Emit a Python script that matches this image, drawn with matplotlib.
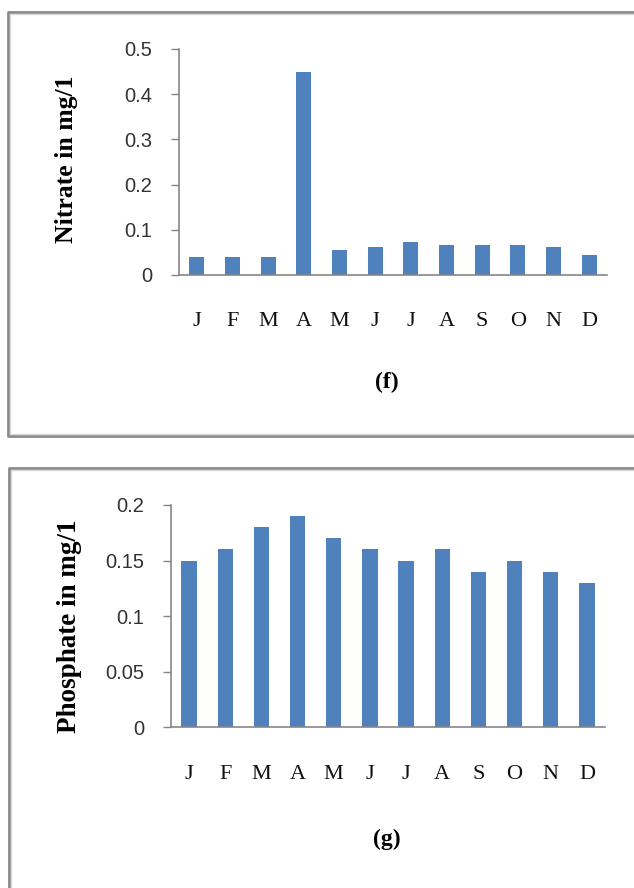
import matplotlib
matplotlib.use("Agg")
import matplotlib.pyplot as plt
from matplotlib.lines import Line2D

months = ["J", "F", "M", "A", "M", "J", "J", "A", "S", "O", "N", "D"]
nitrate = [0.04, 0.04, 0.04, 0.45, 0.056, 0.063, 0.074, 0.066, 0.066, 0.066, 0.063, 0.045]
phosphate = [0.15, 0.16, 0.18, 0.19, 0.17, 0.16, 0.15, 0.16, 0.14, 0.15, 0.14, 0.13]
nitrate_ticks = [0, 0.1, 0.2, 0.3, 0.4, 0.5]
nitrate_ticklabels = ["0", "0.1", "0.2", "0.3", "0.4", "0.5"]
phosphate_ticks = [0, 0.05, 0.1, 0.15, 0.2]
phosphate_ticklabels = ["0", "0.05", "0.1", "0.15", "0.2"]

W, H = 634, 888
fig = plt.figure(figsize=(W / 100, H / 100), dpi=100)
fig.patch.set_facecolor("white")

BAR = "#4F81BD"
AXIS = "#868686"
SERIF = "Liberation Serif"
SANS = "Liberation Sans"


def fx(px):
    return px / W


def fy(py):
    return 1 - py / H


def frame(x0, y0, x1, y1):
    # outer dark edge plus a light inner edge, like a pasted chart box
    for off, col, lw in ((0, "#8a8a8a", 2.0), (2, "#d9d9d9", 1.0)):
        xs = [fx(x1 + 5), fx(x0 + off), fx(x0 + off), fx(x1 + 5)]
        ys = [fy(y0 + off), fy(y0 + off), fy(y1 - off), fy(y1 - off)]
        fig.add_artist(Line2D(xs, ys, color=col, lw=lw, transform=fig.transFigure))


frame(8, 12, W, 436)
frame(9, 468, W, H + 10)


def panel(rect, values, ticks, ticklabels, ylabel, ylab_xy, ylab_size, tag, tag_y):
    ax = fig.add_axes(rect)
    x = range(len(values))
    ax.bar(x, values, width=0.42, color=BAR, zorder=2)
    ax.set_xlim(-0.5, len(values) - 0.5)
    ax.set_ylim(ticks[0], ticks[-1])
    ax.set_yticks(ticks)
    ax.set_yticklabels(ticklabels, fontfamily=SANS, fontsize=14.5, color="#333333")
    ax.set_xticks(list(x))
    ax.set_xticklabels(months, fontfamily=SERIF, fontsize=16, color="#111111")
    ax.tick_params(axis="x", length=0, pad=27)
    ax.tick_params(axis="y", length=6, width=1, color=AXIS, pad=13)
    for s in ("top", "right"):
        ax.spines[s].set_visible(False)
    for s in ("left", "bottom"):
        ax.spines[s].set_color(AXIS)
        ax.spines[s].set_linewidth(1.2)
    fig.text(fx(ylab_xy[0]), fy(ylab_xy[1]), ylabel, rotation=90, ha="center",
             va="center", fontfamily=SERIF, fontweight="bold", fontsize=ylab_size)
    fig.text(fx(387), fy(tag_y), tag, ha="center", va="center",
             fontfamily=SERIF, fontweight="bold", fontsize=17)
    return ax


panel([fx(179), fy(275), fx(607) - fx(179), fy(49) - fy(275)],
      nitrate, nitrate_ticks, nitrate_ticklabels, "Nitrate in mg/1", (66, 159), 18.5,
      "(f)", 382)
panel([fx(171), fy(727), fx(605) - fx(171), fy(505) - fy(727)],
      phosphate, phosphate_ticks, phosphate_ticklabels, "Phosphate in mg/1", (70, 626), 19.5,
      "(g)", 839)

fig.savefig("out.png", dpi=100, facecolor="white")
